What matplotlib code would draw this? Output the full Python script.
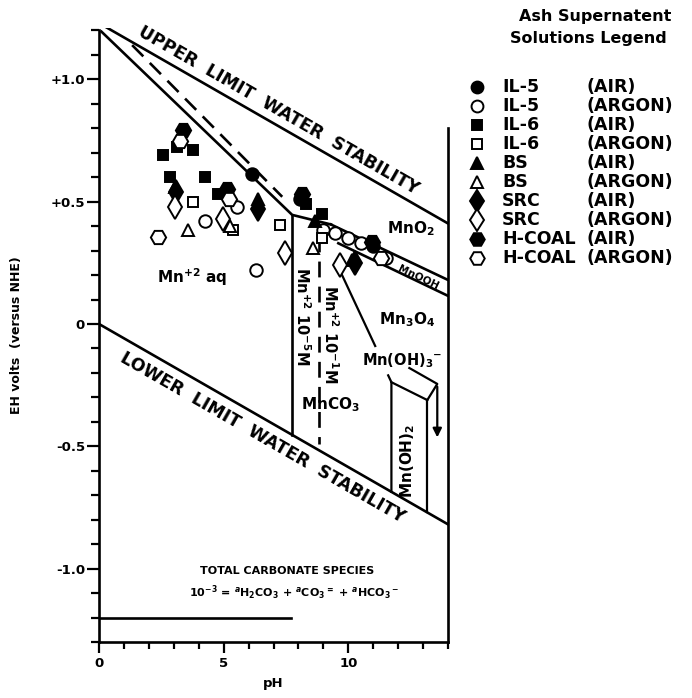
import math
import matplotlib.pyplot as plt
from matplotlib.ticker import MultipleLocator

plt.rcParams['font.family'] = ['DejaVu Sans']
plt.rcParams['font.weight'] = 'bold'
plt.rcParams['axes.labelweight'] = 'bold'

# measured ash supernatant solutions: pH and Eh (volts vs NHE)
il5_air_ph = [6.14, 8.07, 11.0]
il5_air_eh = [0.615, 0.51, 0.32]
il5_argon_ph = [4.26, 5.54, 6.3, 9.0, 9.48, 10.0, 10.5, 11.5]
il5_argon_eh = [0.42, 0.48, 0.22, 0.385, 0.37, 0.35, 0.33, 0.27]
il6_air_ph = [2.57, 3.13, 3.78, 2.85, 4.26, 4.78, 8.3, 8.96]
il6_air_eh = [0.69, 0.725, 0.71, 0.60, 0.60, 0.53, 0.49, 0.45]
il6_argon_ph = [3.78, 5.38, 7.27, 8.96]
il6_argon_eh = [0.50, 0.385, 0.405, 0.35]
bs_air_ph = [3.05, 6.39, 8.67, 10.16]
bs_air_eh = [0.56, 0.51, 0.42, 0.26]
bs_argon_ph = [5.26, 3.57, 8.6]
bs_argon_eh = [0.40, 0.385, 0.31]
src_air_ph = [3.09, 6.39, 10.28]
src_air_eh = [0.54, 0.47, 0.25]
src_argon_ph = [3.05, 4.98, 7.47, 9.68]
src_argon_eh = [0.48, 0.43, 0.29, 0.24]
hcoal_air_ph = [3.37, 5.14, 8.15, 10.96]
hcoal_air_eh = [0.795, 0.55, 0.53, 0.335]
hcoal_argon_ph = [2.37, 3.25, 5.2, 11.3]
hcoal_argon_eh = [0.357, 0.75, 0.51, 0.27]

# stability field boundaries (pH, Eh)
upper_water_ph = [0.0, 14.0]
upper_water_eh = [1.23, 1.23 - 0.0585 * 14]
lower_water_ph = [0.0, 14.0]
lower_water_eh = [0.0, -0.0585 * 14]
mno2_mn_ph = [0.1, 7.75, 9.3]
mno2_mn_eh = [1.195, 0.446, 0.407]
mno2_mn_dash_ph = [1.33, 7.35]
mno2_mn_dash_eh = [1.14, 0.52]
mnco3_ph = [7.75, 7.75]
mnco3_eh = [0.446, -0.453]
mnco3_dash_ph = [8.84, 8.84]
mnco3_dash_eh = [0.36, -0.49]
mnooh_top_ph = [9.3, 14.0]
mnooh_top_eh = [0.407, 0.18]
mnooh_bot_ph = [9.6, 14.0]
mnooh_bot_eh = [0.33, 0.115]
mn3o4_ph = [9.75, 11.08]
mn3o4_eh = [0.20, -0.09]
mnoh2_left_ph = [11.6, 11.73, 11.73]
mnoh2_left_eh = [-0.21, -0.238, -0.686]
mnoh2_top_ph = [11.73, 13.17]
mnoh2_top_eh = [-0.238, -0.311]
mnoh2_right_ph = [13.17, 13.17]
mnoh2_right_eh = [-0.311, -0.770]
mnoh3_ph = [12.45, 13.57, 13.17]
mnoh3_eh = [-0.18, -0.245, -0.311]
carbonate_ph = [0.0, 7.7]
carbonate_eh = [-1.2, -1.2]

series = [
    ("IL-5", "(AIR)", il5_air_ph, il5_air_eh, "o", True, 9),
    ("IL-5", "(ARGON)", il5_argon_ph, il5_argon_eh, "o", False, 9),
    ("IL-6", "(AIR)", il6_air_ph, il6_air_eh, "s", True, 7.5),
    ("IL-6", "(ARGON)", il6_argon_ph, il6_argon_eh, "s", False, 7.5),
    ("BS", "(AIR)", bs_air_ph, bs_air_eh, "^", True, 8.5),
    ("BS", "(ARGON)", bs_argon_ph, bs_argon_eh, "^", False, 8.5),
    ("SRC", "(AIR)", src_air_ph, src_air_eh, "d", True, 12),
    ("SRC", "(ARGON)", src_argon_ph, src_argon_eh, "d", False, 12),
    ("H-COAL", "(AIR)", hcoal_air_ph, hcoal_air_eh, "H", True, 11),
    ("H-COAL", "(ARGON)", hcoal_argon_ph, hcoal_argon_eh, "H", False, 11),
]

W, H = 692, 698
fig = plt.figure(figsize=(W / 100, H / 100), dpi=100)
ax = fig.add_axes([99 / W, 1 - 642 / H, 349 / W, 614 / H])
ax.set_xlim(0, 14)
ax.set_ylim(-1.30, 1.21)

lw = 1.9
ax.plot(upper_water_ph, upper_water_eh, color='k', lw=lw)
ax.plot(lower_water_ph, lower_water_eh, color='k', lw=lw)
ax.plot(mno2_mn_ph, mno2_mn_eh, color='k', lw=lw)
ax.plot(mno2_mn_dash_ph, mno2_mn_dash_eh, color='k', lw=lw, dashes=(6, 3.5))
ax.plot(mnco3_ph, mnco3_eh, color='k', lw=lw)
ax.plot(mnco3_dash_ph, mnco3_dash_eh, color='k', lw=lw, dashes=(6, 3.5))
ax.plot(mnooh_top_ph, mnooh_top_eh, color='k', lw=lw)
ax.plot(mnooh_bot_ph, mnooh_bot_eh, color='k', lw=lw)
ax.plot(mn3o4_ph, mn3o4_eh, color='k', lw=1.6)
ax.plot(mnoh2_left_ph, mnoh2_left_eh, color='k', lw=1.6)
ax.plot(mnoh2_top_ph, mnoh2_top_eh, color='k', lw=1.6)
ax.plot(mnoh2_right_ph, mnoh2_right_eh, color='k', lw=1.6)
ax.plot(mnoh3_ph, mnoh3_eh, color='k', lw=1.6)
ax.annotate('', xy=(13.57, -0.475), xytext=(13.57, -0.245),
            arrowprops=dict(arrowstyle='-|>', lw=1.6, color='k', mutation_scale=13))
ax.plot(carbonate_ph, carbonate_eh, color='k', lw=lw)

for name, cond, ph, eh, mk, filled, ms in series:
    ax.plot(ph, eh, ls='none', marker=mk, ms=ms, mew=1.4, mec='k',
            mfc='k' if filled else 'white', zorder=5)


def screen_angle(slope):
    p0, p1 = ax.transData.transform([(0, 0), (1, slope)])
    return math.degrees(math.atan2(p1[1] - p0[1], p1[0] - p0[0]))


water_rot = screen_angle(-0.0585)
ax.text(7.19, 0.875, "UPPER  LIMIT  WATER  STABILITY", rotation=water_rot,
        rotation_mode='anchor', ha='center', va='center', fontsize=12.5)
ax.text(6.55, -0.463, "LOWER  LIMIT  WATER  STABILITY", rotation=water_rot,
        rotation_mode='anchor', ha='center', va='center', fontsize=12.5)

band_rot = screen_angle((mnooh_top_eh[1] - mnooh_top_eh[0]) / (mnooh_top_ph[1] - mnooh_top_ph[0]))
ax.text(12.8, 0.19, "MnOOH", rotation=band_rot, rotation_mode='anchor',
        ha='center', va='center', fontsize=7.5)
ax.text(12.5, 0.39, "MnO$_2$", ha='center', va='center', fontsize=11)
ax.text(12.37, 0.016, "Mn$_3$O$_4$", ha='center', va='center', fontsize=11)
ax.text(3.73, 0.19, "Mn$^{+2}$ aq", ha='center', va='center', fontsize=11)
ax.text(12.17, -0.15, "Mn(OH)$_3$$^{-}$", ha='center', va='center', fontsize=10.5)
ax.text(9.3, -0.33, "MnCO$_3$", ha='center', va='center', fontsize=11)
ax.text(12.37, -0.56, "Mn(OH)$_2$", rotation=90, ha='center', va='center', fontsize=11)
ax.text(8.15, 0.033, "Mn$^{+2}$ 10$^{-5}$M", rotation=-90, ha='center', va='center', fontsize=10.5)
ax.text(9.28, -0.04, "Mn$^{+2}$ 10$^{-1}$M", rotation=-90, ha='center', va='center', fontsize=10.5)
ax.text(7.55, -1.01, "TOTAL CARBONATE SPECIES", ha='center', va='center', fontsize=8)
ax.text(7.83, -1.10, r"10$^{-3}$ = $^a$H$_2$CO$_3$ + $^a$CO$_3$$^{=}$ + $^a$HCO$_3$$^-$",
        ha='center', va='center', fontsize=8)

# axes frame and ticks
for s in ['left', 'bottom', 'right']:
    ax.spines[s].set_linewidth(1.9)
ax.spines['top'].set_visible(False)
ax.spines['left'].set_bounds(-1.30, 1.2)
ax.spines['right'].set_bounds(-1.30, 0.8)
ax.set_yticks([-1.0, -0.5, 0.0, 0.5, 1.0], ['-1.0', '-0.5', '0', '+0.5', '+1.0'])
ax.yaxis.set_minor_locator(MultipleLocator(0.1))
ax.set_xticks([0, 5, 10], ['0', '5', '10'])
ax.xaxis.set_minor_locator(MultipleLocator(1))
ax.set_xlim(0, 14)
ax.tick_params(axis='both', which='both', direction='out', width=1.6, labelsize=9.5)
ax.tick_params(axis='y', which='major', length=9, pad=1)
ax.tick_params(axis='y', which='minor', length=5.5)
ax.tick_params(axis='x', which='major', length=8, pad=3)
ax.tick_params(axis='x', which='minor', length=5)
ax.set_xlabel("pH", fontsize=9.5, fontweight='bold', labelpad=5)
ax.set_ylabel("EH volts  (versus NHE)", fontsize=9, fontweight='bold', labelpad=20)

# legend drawn beside the diagram
lax = fig.add_axes([0, 0, 1, 1])
lax.set_xlim(0, W)
lax.set_ylim(H, 0)
lax.axis('off')
lax.text(595, 16, "Ash Supernatent", ha='center', va='center', fontsize=11.5)
lax.text(588, 38, "Solutions Legend", ha='center', va='center', fontsize=11.5)
for i, (name, cond, ph, eh, mk, filled, ms) in enumerate(series):
    y = 87 + 19.0 * i
    lax.plot([477], [y], ls='none', marker=mk, ms=ms * 0.95, mew=1.4, mec='k',
             mfc='k' if filled else 'white')
    lax.text(502, y, name, ha='left', va='center', fontsize=12.5)
    lax.text(587, y, cond, ha='left', va='center', fontsize=12.5)

fig.savefig("out.png", dpi=100)
